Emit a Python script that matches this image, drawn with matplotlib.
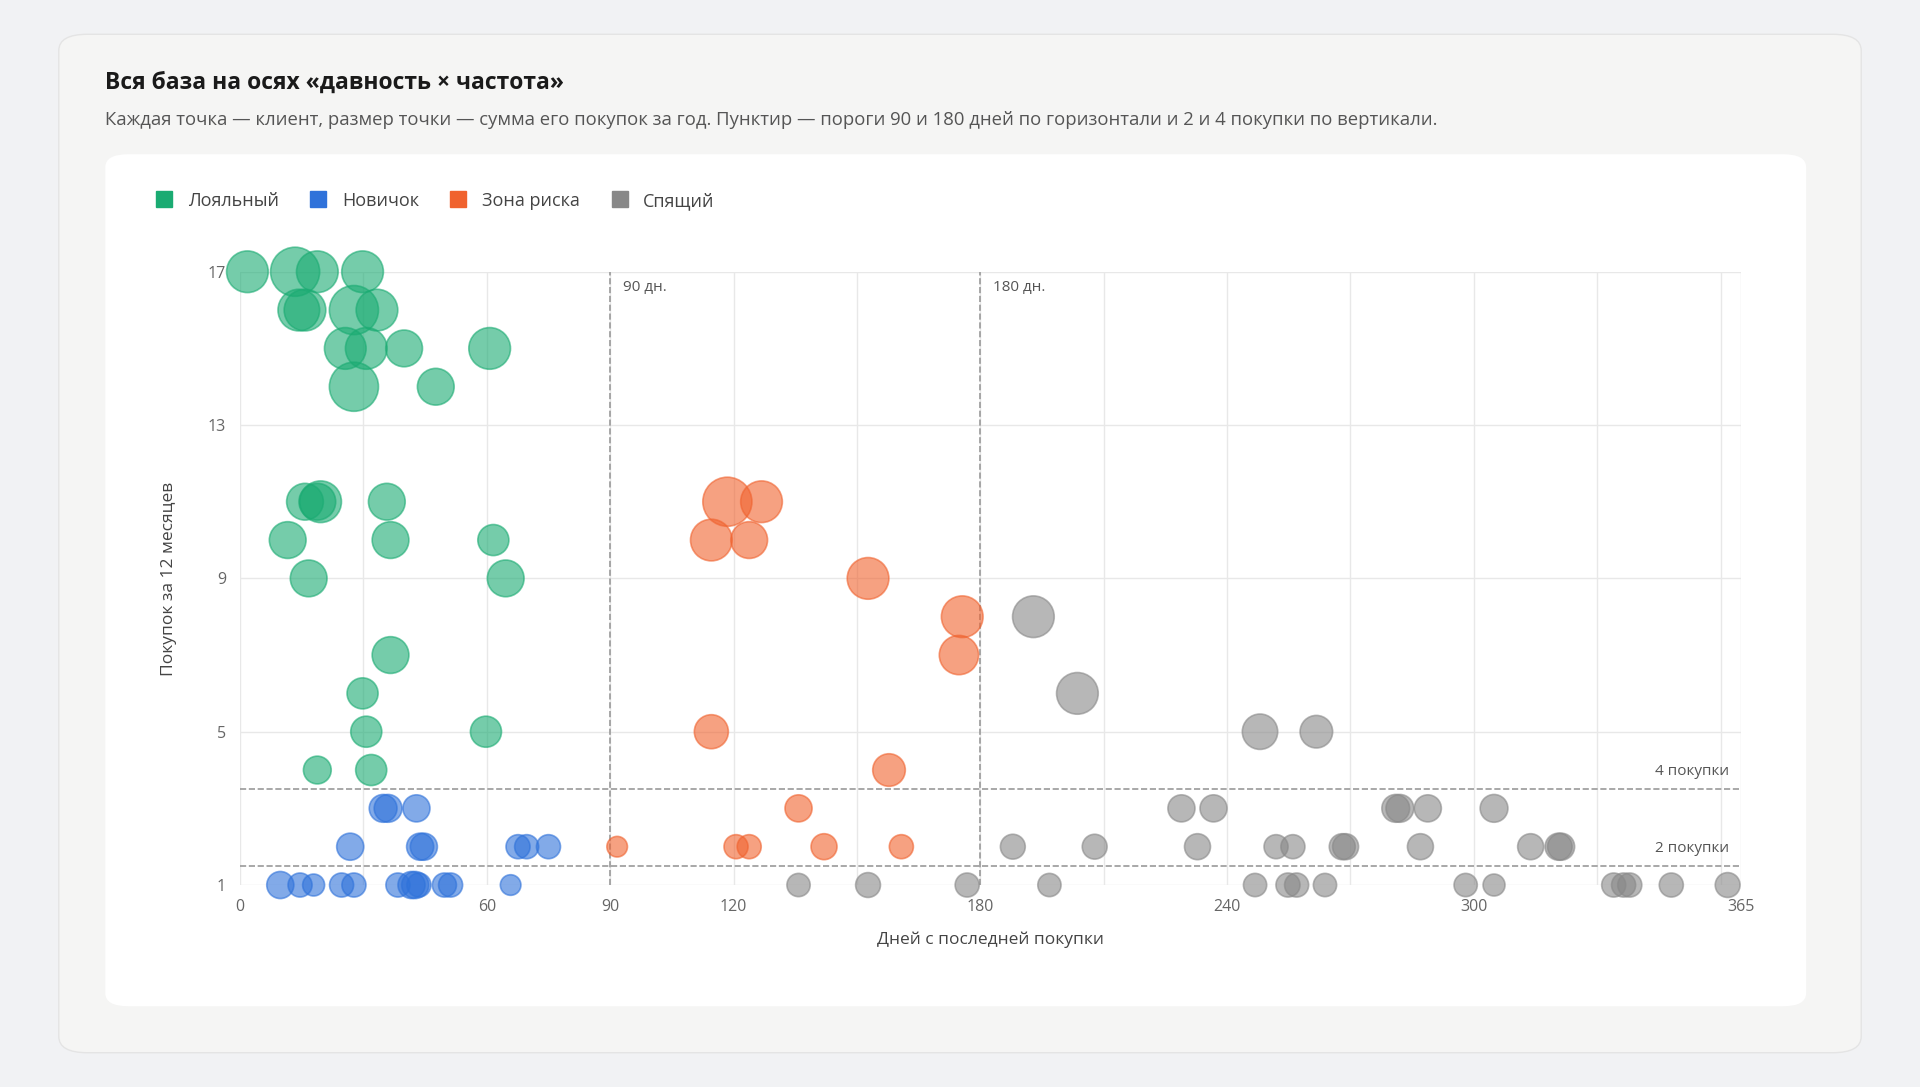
import matplotlib.pyplot as plt
from matplotlib.patches import FancyBboxPatch
from matplotlib.lines import Line2D

plt.rcParams['font.family'] = ['Open Sans', 'DejaVu Sans']

# days since last purchase, purchases in 12 months, yearly spend (relative)
loyal_days = [1.8, 13.4, 18.8, 29.8, 14.3, 15.8, 27.7, 33.3, 25.6, 30.7, 39.9, 60.7, 27.7, 47.6,
              15.8, 19.6, 18.8, 35.7, 11.6, 36.6, 61.6, 16.7, 64.6, 36.6, 29.8, 30.7, 59.8, 18.8, 31.9]
loyal_freq = [17, 17, 17, 17, 16, 16, 16, 16, 15, 15, 15, 15, 14, 14,
              11, 11, 11, 11, 10, 10, 10, 9, 9, 7, 6, 5, 5, 4, 4]
loyal_sum = [90, 125, 90, 90, 90, 90, 125, 90, 90, 90, 70, 90, 125, 70,
             70, 90, 70, 70, 70, 70, 50, 70, 70, 70, 50, 50, 50, 40, 50]

new_days = [34.8, 36.0, 42.9, 26.8, 43.8, 44.7, 67.6, 69.7, 75.0,
            9.8, 14.6, 17.9, 24.7, 27.7, 38.4, 41.7, 42.6, 43.5, 49.7, 51.2, 65.8]
new_freq = [3, 3, 3, 2, 2, 2, 2, 2, 2, 1, 1, 1, 1, 1, 1, 1, 1, 1, 1, 1, 1]
new_sum = [40, 40, 38, 38, 38, 38, 30, 30, 30, 38, 30, 25, 30, 30, 30, 38, 38, 30, 30, 30, 22]

risk_days = [118.5, 126.8, 114.6, 123.8, 152.7, 175.6, 174.8, 114.6, 157.8, 135.8,
             91.7, 120.6, 123.8, 142.0, 160.8]
risk_freq = [11, 11, 10, 10, 9, 8, 7, 5, 4, 3, 2, 2, 2, 2, 2]
risk_sum = [125, 90, 90, 70, 90, 90, 80, 60, 55, 38, 22, 30, 30, 35, 30]

sleep_days = [192.9, 203.6, 248.0, 261.7, 228.9, 236.7, 281.0, 282.0, 288.8, 304.9,
              187.9, 207.8, 232.8, 251.9, 256.0, 268.0, 268.8, 287.0, 313.8, 320.6, 321.2,
              135.8, 152.7, 176.8, 196.8, 246.8, 254.8, 256.9, 263.8, 298.0, 304.9,
              334.0, 336.4, 337.9, 348.0, 361.7]
sleep_freq = [8, 6, 5, 5, 3, 3, 3, 3, 3, 3,
              2, 2, 2, 2, 2, 2, 2, 2, 2, 2, 2,
              1, 1, 1, 1, 1, 1, 1, 1, 1, 1, 1, 1, 1, 1, 1]
sleep_sum = [90, 90, 65, 55, 38, 38, 40, 40, 38, 40,
             32, 32, 35, 30, 30, 35, 35, 35, 35, 38, 38,
             28, 32, 30, 28, 28, 30, 30, 28, 28, 25, 30, 30, 30, 30, 32]

segments = ['Лояльный', 'Новичок', 'Зона риска', 'Спящий']
colors = ['#1aab72', '#2f72da', '#f0622e', '#888888']

fig = plt.figure(figsize=(19.2, 10.87), dpi=100)
fig.patch.set_facecolor('#f1f2f4')
W, H = 1568, 888
fig.patches.append(FancyBboxPatch((48 / W, 1 - 860 / H), 1472 / W, 832 / H,
                                  boxstyle='round,pad=0,rounding_size=0.015',
                                  transform=fig.transFigure, fc='#f5f5f4', ec='#e4e4e4', lw=1))
fig.patches.append(FancyBboxPatch((86 / W, 1 - 822 / H), 1389 / W, 696 / H,
                                  boxstyle='round,pad=0,rounding_size=0.012',
                                  transform=fig.transFigure, fc='white', ec='none'))

fig.text(86 / W, 1 - 68 / H, 'Вся база на осях «давность × частота»', fontsize=16.5,
         fontweight='bold', color='#1a1a1a', va='center')
fig.text(86 / W, 1 - 98 / H,
         'Каждая точка — клиент, размер точки — сумма его покупок за год. Пунктир — пороги 90 и 180 дней '
         'по горизонтали и 2 и 4 покупки по вертикали.', fontsize=13.3, color='#555555', va='center')

ax = fig.add_axes([196 / W, 1 - 723 / H, 1226 / W, 501 / H])
ax.set_zorder(5)
ax.patch.set_alpha(0)
ax.set_xlim(0, 365)
ax.set_ylim(1, 17)
for s in ax.spines.values():
    s.set_visible(False)
ax.set_xticks(range(0, 361, 30), minor=True)
ax.set_xticks([0, 60, 90, 120, 180, 240, 300, 365])
ax.set_yticks([1, 5, 9, 13, 17])
ax.grid(True, which='both', color='#e8e8e8', lw=1)
ax.set_axisbelow(True)
ax.tick_params(which='both', length=0, labelsize=11.5, colors='#666666', pad=10)

data = [(loyal_days, loyal_freq, loyal_sum), (new_days, new_freq, new_sum),
        (risk_days, risk_freq, risk_sum), (sleep_days, sleep_freq, sleep_sum)]
for (d, f, m), c in zip(data, colors):
    ax.scatter(d, f, s=[v * 10 for v in m], color=c, alpha=0.6, edgecolors=c,
               linewidths=1.2, clip_on=False, zorder=3)

for x, lab in [(90, '90 дн.'), (180, '180 дн.')]:
    ax.axvline(x, color='#999999', ls='--', lw=1.2, zorder=2)
    ax.text(x + 3, 16.6, lab, fontsize=11, color='#555555', va='center')
for y, lab in [(1.5, '2 покупки'), (3.5, '4 покупки')]:
    ax.axhline(y, color='#999999', ls='--', lw=1.2, zorder=2)
    ax.text(362, y + 0.45, lab, fontsize=11, color='#555555', ha='right', va='center')

ax.set_xlabel('Дней с последней покупки', fontsize=12.5, color='#444444', labelpad=12)
ax.set_ylabel('Покупок за 12 месяцев', fontsize=12.5, color='#444444', labelpad=22)

handles = [Line2D([], [], marker='s', ls='none', markersize=11, color=c) for c in colors]
fig.legend(handles, segments, loc='center left', bbox_to_anchor=(106 / W, 1 - 164 / H),
           ncol=4, frameon=False, fontsize=13, handletextpad=0.3, columnspacing=1.2,
           labelcolor='#444444')

fig.savefig('out.png', dpi=100, facecolor=fig.get_facecolor())
